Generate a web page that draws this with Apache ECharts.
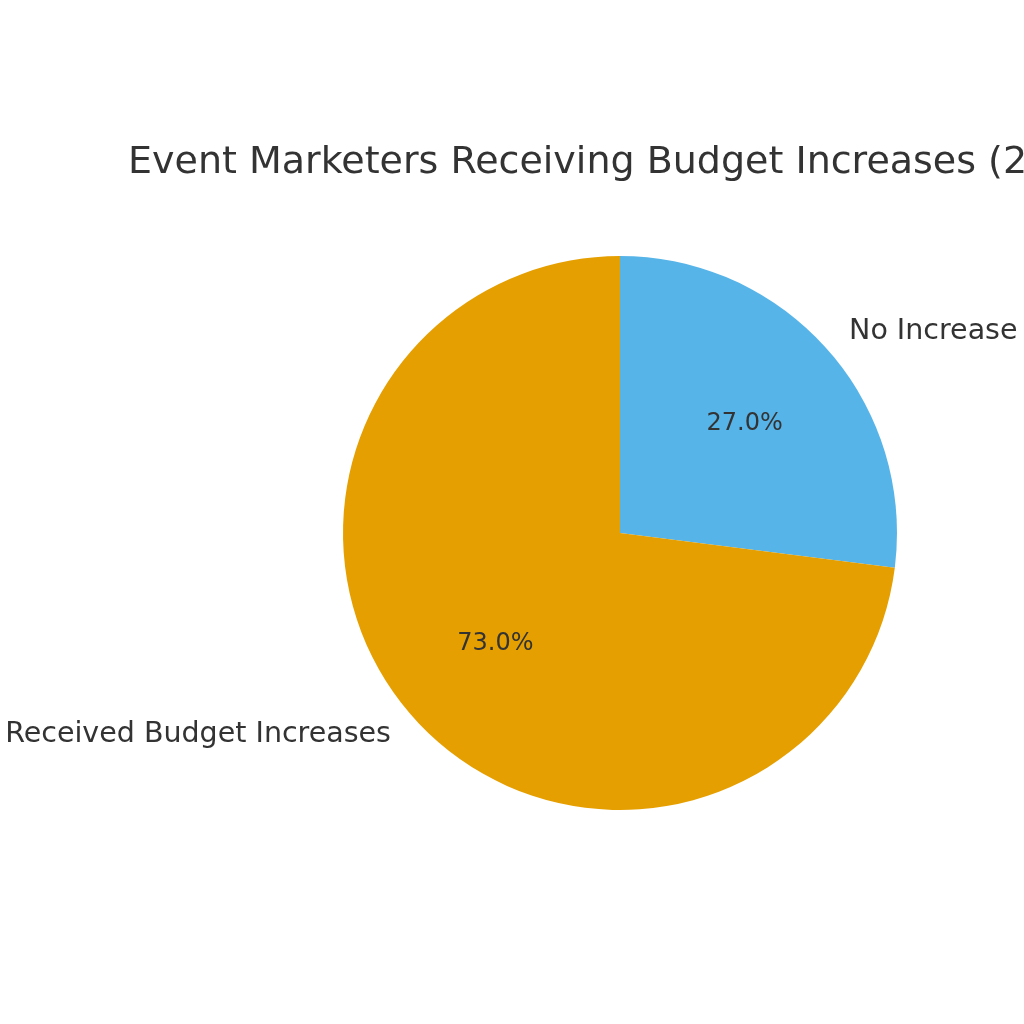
<!DOCTYPE html>
<html>
<head>
<meta charset="utf-8">
<script src="https://cdn.jsdelivr.net/npm/echarts@6/dist/echarts.min.js"></script>
<style>
  html, body { margin: 0; padding: 0; background: #ffffff; }
  #chart { width: 1024px; height: 1024px; }
</style>
</head>
<body>
<div id="chart"></div>
<script>
const chartTitle = 'Event Marketers Receiving Budget Increases (2023)';
const categories = ['No Increase', 'Received Budget Increases'];
const shares = [27.0, 73.0];
const sliceColors = ['#56B4E9', '#E69F00'];

const chart = echarts.init(document.getElementById('chart'));

const R = 277;
const CX = 620, CY = 533;
const VIEW_LEFT = -200, VIEW_WIDTH = 1500;

const pieData = categories.map((c, i) => ({
  name: c,
  value: shares[i],
  itemStyle: { color: sliceColors[i] }
}));

chart.setOption({
  backgroundColor: '#ffffff',
  animation: false,
  title: {
    text: chartTitle,
    left: 123,
    top: 139,
    textStyle: {
      fontFamily: 'DejaVu Sans',
      fontSize: 38,
      fontWeight: 'normal',
      color: '#333333'
    }
  },
  series: [
    {
      type: 'pie',
      left: VIEW_LEFT,
      top: 0,
      width: VIEW_WIDTH,
      height: 1024,
      center: [CX - VIEW_LEFT, CY],
      radius: [0, R],
      startAngle: 90,
      clockwise: true,
      avoidLabelOverlap: false,
      silent: true,
      data: pieData,
      label: {
        show: true,
        position: 'outside',
        formatter: '{b}',
        fontFamily: 'DejaVu Sans',
        fontSize: 28.5,
        color: '#333333',
        overflow: 'none'
      },
      labelLine: { show: false, length: R * 0.1, length2: -4.5 },
      emphasis: { disabled: true }
    },
    {
      type: 'pie',
      left: VIEW_LEFT,
      top: 0,
      width: VIEW_WIDTH,
      height: 1024,
      center: [CX - VIEW_LEFT, CY],
      radius: [0, R * 1.2 - 6],
      startAngle: 90,
      clockwise: true,
      avoidLabelOverlap: false,
      silent: true,
      data: categories.map((c, i) => ({
        name: c,
        value: shares[i],
        itemStyle: { color: 'rgba(0,0,0,0)' }
      })),
      label: {
        show: true,
        position: 'inside',
        formatter: (p) => p.value.toFixed(1) + '%',
        fontFamily: 'DejaVu Sans',
        fontSize: 24,
        color: '#333333',
        offset: [0, 1]
      },
      labelLine: { show: false },
      emphasis: { disabled: true }
    }
  ]
});
</script>
</body>
</html>
